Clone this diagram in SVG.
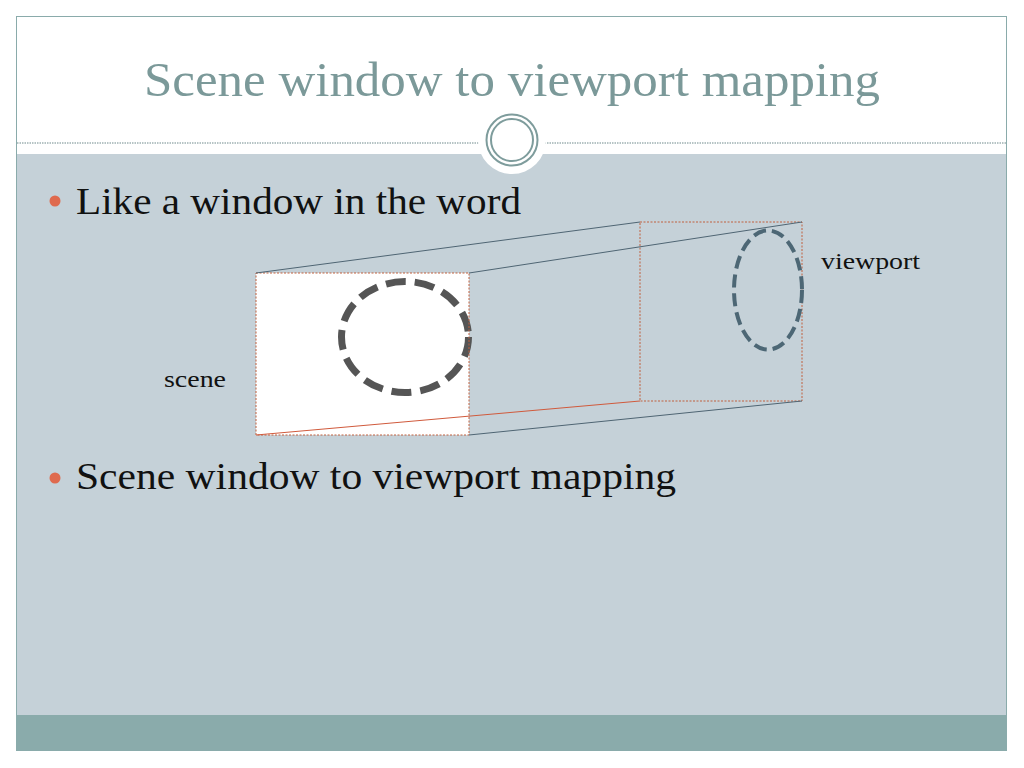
<svg xmlns="http://www.w3.org/2000/svg" width="1024" height="768" viewBox="0 0 1024 768">
<style>
.serif{font-family:"Liberation Serif","DejaVu Serif",serif;}
.title{fill:#7b9999;font-size:48px;}
.bullet{fill:#111;font-size:38px;}
.label{fill:#111;font-size:24px;}
.frame{fill:none;stroke:#c0603f;stroke-width:1;stroke-dasharray:2,1.5;}
.edge{stroke:#4f6573;stroke-width:1;fill:none;}
.dot{fill:#df6a4e;}
</style>
<rect x="0" y="0" width="1024" height="768" fill="#ffffff"/>
<g id="slide">
<rect x="16.5" y="16.5" width="990" height="734" fill="#ffffff" stroke="#8aabab" stroke-width="1"/>
<rect x="17" y="154" width="989" height="561" fill="#c5d1d8"/>
<rect x="17" y="715" width="989" height="35" fill="#8aabab"/>
<line x1="17" y1="143" x2="1006" y2="143" stroke="#9fb1b3" stroke-width="1.4" stroke-dasharray="1.5,1"/>
<circle cx="512" cy="140" r="34" fill="#ffffff"/>
<circle cx="512" cy="140" r="25.5" fill="none" stroke="#7e9c9c" stroke-width="2"/>
<circle cx="512" cy="140" r="21" fill="none" stroke="#7e9c9c" stroke-width="2"/>
</g>
<g id="title">
<text class="serif title" x="144" y="96" textLength="736" lengthAdjust="spacingAndGlyphs">Scene window to viewport mapping</text>
</g>
<g id="bullets">
<circle class="dot" cx="55" cy="201" r="5.5"/>
<text class="serif bullet" x="76" y="214" textLength="445" lengthAdjust="spacingAndGlyphs">Like a window in the word</text>
<circle class="dot" cx="55" cy="478" r="5.5"/>
<text class="serif bullet" x="76" y="489" textLength="600" lengthAdjust="spacingAndGlyphs">Scene window to viewport mapping</text>
</g>
<g id="scene">
<rect x="256" y="273" width="213" height="162" fill="#ffffff"/>
<ellipse cx="405" cy="337" rx="63.5" ry="55.5" fill="none" stroke="#555555" stroke-width="7" stroke-dasharray="20,9"/>
<rect class="frame" x="256" y="273" width="213" height="162"/>
<text class="serif label" x="164" y="387" textLength="62" lengthAdjust="spacingAndGlyphs">scene</text>
</g>
<g id="viewport">
<rect class="frame" x="640" y="222" width="162" height="179"/>
<ellipse cx="768" cy="290" rx="34" ry="59.5" fill="none" stroke="#4d6775" stroke-width="4" stroke-dasharray="13,6"/>
<text class="serif label" x="821" y="269" textLength="99" lengthAdjust="spacingAndGlyphs">viewport</text>
</g>
<g id="connectors">
<line class="edge" x1="256" y1="273" x2="640" y2="222"/>
<line class="edge" x1="469" y1="273" x2="802" y2="222"/>
<line x1="256" y1="435" x2="640" y2="401" stroke="#d05a3c" stroke-width="1"/>
<line class="edge" x1="469" y1="435" x2="802" y2="401"/>
</g>
</svg>
